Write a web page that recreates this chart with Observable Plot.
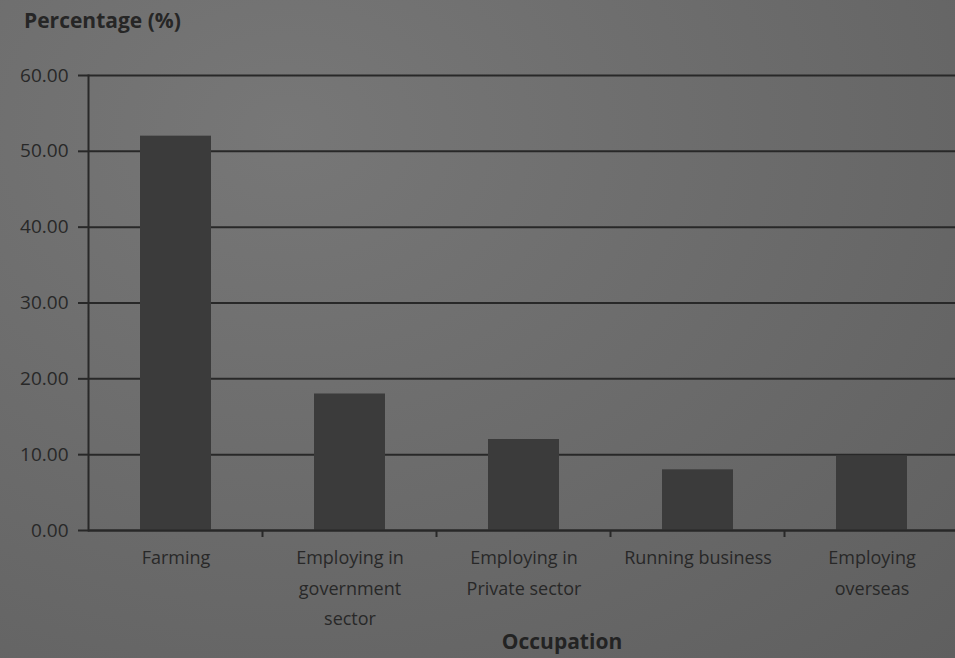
<!DOCTYPE html>
<html>
<head>
<meta charset="utf-8">
<script src="https://cdn.jsdelivr.net/npm/d3@7"></script>
<script src="https://cdn.jsdelivr.net/npm/@observablehq/plot@0.6"></script>
<style>
  html, body { margin: 0; padding: 0; background: #6c6c6c; }
  #wrap { position: relative; width: 955px; height: 658px; overflow: hidden;
          background: radial-gradient(ellipse at 30% 20%, #777777 0%, #6a6a6a 55%, #5f5f5f 100%);
          font-family: "Open Sans", Lato, sans-serif; color: #232323; }
  #title { position: absolute; left: 24px; top: 6px; font-size: 21px; font-weight: bold; color: #262626; }
  #xlabel { position: absolute; left: 0; width: 1124px; text-align: center; top: 627px; font-size: 21px; font-weight: bold; color: #232323; }
  #chart { position: absolute; left: 0; top: 0; }
</style>
</head>
<body>
<div id="wrap">
  <div id="chart"></div>
  <div id="title">Percentage (%)</div>
  <div id="xlabel">Occupation</div>
</div>
<script>
const categories = ["Farming", "Employing in government sector", "Employing in Private sector", "Running business", "Employing overseas"];
const tickLabels = ["Farming", "Employing in\ngovernment\nsector", "Employing in\nPrivate sector", "Running business", "Employing\noverseas"];
const values = [52, 18, 12, 8, 9.8];
const yTicks = [0, 10, 20, 30, 40, 50, 60];

const data = categories.map((c, i) => ({category: c, value: values[i]}));
const labelOf = new Map(categories.map((c, i) => [c, tickLabels[i]]));

const ink = "#282828";

const chart = Plot.plot({
  width: 955,
  height: 658,
  marginTop: 75,
  marginBottom: 128,
  marginLeft: 88,
  marginRight: -4,
  style: {background: "transparent", fontFamily: "'Open Sans', Lato, sans-serif", color: ink},
  x: {domain: categories, paddingInner: 0.59, paddingOuter: 0.295, align: 0.5},
  y: {domain: [0, 60], ticks: yTicks},
  marks: [
    Plot.gridY(yTicks, {stroke: ink, strokeOpacity: 1, strokeWidth: 2}),
    Plot.barY(data, {x: "category", y: "value", fill: "#3b3b3b"}),
    Plot.axisY(yTicks, {
      tickFormat: d => d.toFixed(2), tickSize: 10, tickPadding: 10,
      fontSize: 19, stroke: ink, strokeWidth: 2, fill: ink, label: null
    }),
    Plot.frame({anchor: "left", stroke: ink, strokeWidth: 2}),
    Plot.ruleY([0], {stroke: ink, strokeWidth: 2}),
    // tick marks at category boundaries
    (index, scales, values, dims) => {
      const x = scales.x;
      const step = x.step();
      const y0 = scales.y(0);
      const g = d3.create("svg:g");
      categories.forEach((c, i) => {
        if (i === 0) return;
        const xb = x(c) - (step - x.bandwidth()) / 2;
        g.append("line").attr("x1", xb).attr("x2", xb).attr("y1", y0).attr("y2", y0 + 7)
          .attr("stroke", ink).attr("stroke-width", 2);
      });
      return g.node();
    },
    Plot.axisX({
      tickSize: 0, tickPadding: 12, fontSize: 18, lineHeight: 1.7,
      tickFormat: d => labelOf.get(d), fill: ink, label: null
    })
  ]
});
document.getElementById("chart").appendChild(chart);
</script>
</body>
</html>
